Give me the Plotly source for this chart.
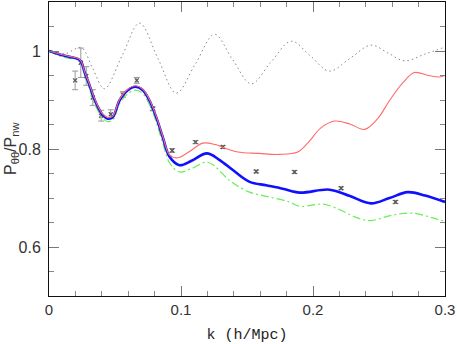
import plotly.graph_objects as go

# no-wiggle ratio (black dotted)
k_nw = [0, 0.008, 0.013, 0.0244, 0.033, 0.042, 0.0553, 0.0686, 0.0825, 0.0964, 0.111,
        0.1254, 0.139, 0.1532, 0.168, 0.1835, 0.198, 0.2125, 0.228, 0.244, 0.2567,
        0.2693, 0.285, 0.3]
p_nw = [1.0, 0.996, 0.995, 1.007, 0.965, 0.923, 0.99, 1.057, 0.985, 0.914, 0.974,
        1.034, 0.983, 0.933, 0.977, 1.020, 0.99, 0.959, 0.985, 1.012, 0.996,
        0.980, 0.994, 1.008]

# thick blue model
k_blue = [0, 0.008, 0.0155, 0.0218, 0.0244, 0.0269, 0.0307, 0.0332, 0.037, 0.0408, 0.0445,
          0.0483, 0.0534, 0.0597, 0.0655, 0.0711, 0.0761, 0.0812, 0.0862, 0.0913, 0.0989,
          0.108, 0.1196, 0.129, 0.1393, 0.152, 0.1645, 0.177, 0.19, 0.2125, 0.228, 0.244,
          0.258, 0.2718, 0.285, 0.3]
p_blue = [1.0, 0.993, 0.988, 0.984, 0.978, 0.957, 0.930, 0.910, 0.886, 0.869, 0.862,
          0.865, 0.899, 0.920, 0.927, 0.920, 0.899, 0.865, 0.824, 0.784, 0.767,
          0.776, 0.791, 0.778, 0.757, 0.733, 0.726, 0.719, 0.711, 0.717, 0.704, 0.689,
          0.700, 0.712, 0.705, 0.692]

# thin red model
k_red = [0, 0.008, 0.0155, 0.0218, 0.0244, 0.0269, 0.0307, 0.0332, 0.037, 0.0408, 0.0445,
         0.0483, 0.0534, 0.0597, 0.0655, 0.0711, 0.0761, 0.0812, 0.0862, 0.0913, 0.0976,
         0.107, 0.1165, 0.126, 0.134, 0.143, 0.159, 0.1746, 0.1885, 0.196, 0.206, 0.2163,
         0.228, 0.239, 0.249, 0.258, 0.268, 0.2769, 0.2875, 0.2958, 0.3]
p_red = [1.0, 0.994, 0.989, 0.985, 0.979, 0.958, 0.932, 0.912, 0.888, 0.871, 0.864,
         0.867, 0.901, 0.922, 0.929, 0.922, 0.901, 0.867, 0.826, 0.788, 0.782,
         0.796, 0.812, 0.809, 0.801, 0.794, 0.791, 0.789, 0.794, 0.812, 0.843, 0.857,
         0.851, 0.840, 0.862, 0.899, 0.935, 0.956, 0.950, 0.947, 0.950]

# green dash-dot model
k_green = [0, 0.008, 0.0155, 0.0218, 0.0244, 0.0269, 0.0307, 0.0332, 0.037, 0.0408, 0.0445,
           0.0483, 0.0534, 0.0597, 0.0655, 0.0711, 0.0761, 0.0812, 0.0862, 0.0913, 0.0989,
           0.108, 0.1203, 0.138, 0.152, 0.167, 0.182, 0.19, 0.2087, 0.2353, 0.244, 0.26,
           0.2756, 0.29, 0.3]
p_green = [1.0, 0.99, 0.985, 0.982, 0.975, 0.952, 0.922, 0.902, 0.878, 0.862, 0.856,
           0.859, 0.892, 0.913, 0.920, 0.913, 0.890, 0.855, 0.812, 0.772, 0.753,
           0.760, 0.773, 0.733, 0.712, 0.702, 0.692, 0.683, 0.687, 0.658, 0.654, 0.665,
           0.669, 0.660, 0.652]

# measurements with error bars
k_data = [0.0198, 0.0241, 0.0282, 0.0332, 0.0395, 0.0468, 0.0559, 0.0665, 0.0786, 0.0933,
          0.111, 0.1317, 0.157, 0.186, 0.2213, 0.2625]
p_data = [0.940, 0.976, 0.949, 0.905, 0.868, 0.871, 0.911, 0.940, 0.882, 0.797,
          0.814, 0.804, 0.754, 0.753, 0.720, 0.692]
p_err = [0.019, 0.030, 0.019, 0.016, 0.011, 0.009, 0.006, 0.006, 0.004, 0.004,
         0.003, 0.003, 0.003, 0.003, 0.003, 0.003]

x_ticks = [0, 0.1, 0.2, 0.3]
x_ticktext = ["0", "0.1", "0.2", "0.3"]
y_ticks = [0.6, 0.8, 1.0]
y_ticktext = ["0.6", "0.8", "1"]

fig = go.Figure()
fig.add_trace(go.Scatter(
    x=k_data, y=p_data, mode="markers",
    marker=dict(symbol="x-thin", size=4, color="#555", line=dict(width=1.3, color="#555")),
    error_y=dict(type="data", array=p_err, color="#999", thickness=1, width=3),
))
fig.add_trace(go.Scatter(x=k_nw, y=p_nw, mode="lines", line_shape="spline",
                         line=dict(color="#888", width=1, dash="1.5px,3px")))
fig.add_trace(go.Scatter(x=k_green, y=p_green, mode="lines", line_shape="spline",
                         line=dict(color="#66ee55", width=1.2, dash="8px,3px,2px,3px")))
fig.add_trace(go.Scatter(x=k_blue, y=p_blue, mode="lines", line_shape="spline",
                         line=dict(color="#1010ff", width=2.6)))
fig.add_trace(go.Scatter(x=k_red, y=p_red, mode="lines", line_shape="spline",
                         line=dict(color="#ff6a6a", width=1.1)))

axis_common = dict(
    showline=True, linecolor="#111", linewidth=1, mirror="ticks",
    ticks="inside", ticklen=10, tickcolor="#777", tickwidth=1,
    showgrid=False, zeroline=False, automargin=False,
)
fig.update_xaxes(
    range=[0, 0.3], tickvals=x_ticks, ticktext=x_ticktext,
    minor=dict(dtick=0.02, tick0=0, ticks="inside", ticklen=5, tickcolor="#888"),
    tickfont=dict(family="Liberation Sans", size=15, color="#333"),
    title=dict(text="k (h/Mpc)", font=dict(family="Liberation Mono", size=15, color="#222"),
               standoff=14),
    **axis_common,
)
fig.update_yaxes(
    range=[0.5, 1.1], tickvals=y_ticks, ticktext=y_ticktext,
    minor=dict(dtick=0.05, tick0=0.5, ticks="inside", ticklen=5, tickcolor="#888"),
    tickfont=dict(family="Liberation Sans", size=16, color="#333"),
    ticklabelstandoff=4,
    **axis_common,
)
fig.add_annotation(
    text="P<sub>θθ</sub>/P<sub>nw</sub>", textangle=-90,
    xref="paper", yref="paper", x=0, y=0.5, xshift=-38,
    xanchor="center", yanchor="middle", showarrow=False,
    font=dict(family="Liberation Sans", size=16, color="#333"),
)
fig.update_layout(
    width=457, height=344, showlegend=False,
    margin=dict(l=49, r=12, t=2, b=48, autoexpand=False),
    paper_bgcolor="white", plot_bgcolor="white",
)
# the page body has a default 8px margin; drop it so the figure sits at the corner
fig.write_html("out.html", config={"displayModeBar": False},
               post_script="document.body.style.margin='0';")
